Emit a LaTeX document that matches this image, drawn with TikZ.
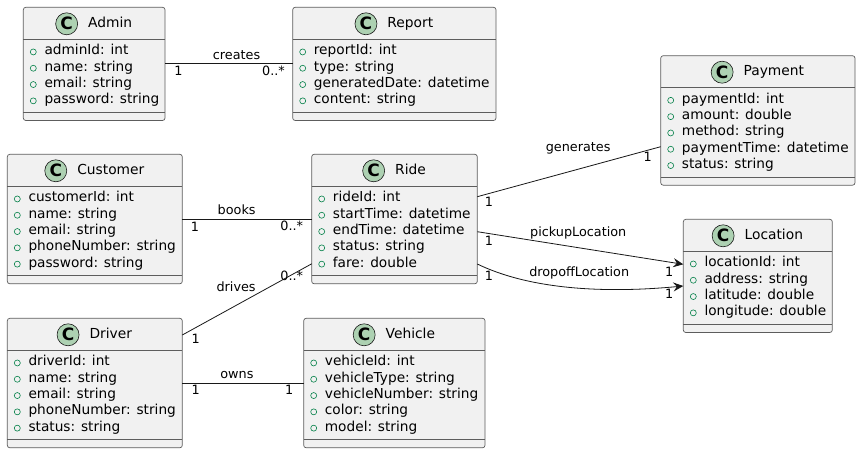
\documentclass[tikz,border=0pt]{standalone}
\usepackage{fontspec}
\setmainfont{DejaVu Sans}
\usetikzlibrary{arrows.meta,calc,positioning}

\definecolor{boxfill}{HTML}{F1F1F1}
\definecolor{boxline}{HTML}{181818}
\definecolor{iconfill}{HTML}{ADD1B2}
\definecolor{visgreen}{HTML}{038048}

\begin{document}
\begin{tikzpicture}[x=1pt,y=-1pt]
  \tikzset{classbox/.style={draw=boxline!70,fill=boxfill,line width=0.7pt,rounded corners=2.5pt,inner sep=0,outer sep=0}}
  \tikzset{sep/.style={draw=boxline!70,line width=0.7pt}}
  \tikzset{cname/.style={inner sep=0,font=\fontsize{13.8}{16}\selectfont,text height=10pt,text depth=3pt}}
  \tikzset{cicon/.style={circle,draw=boxline,fill=iconfill,line width=0.6pt,minimum size=22pt,inner sep=0,font=\fontsize{17}{17}\selectfont\bfseries}}
  \tikzset{attr/.style={anchor=west,inner sep=0,font=\fontsize{13.7}{16}\selectfont,text height=10pt,text depth=3pt}}
  \tikzset{vis/.style={draw=visgreen,line width=0.6pt}}
  \tikzset{assoc/.style={draw=boxline,line width=0.8pt}}
  \tikzset{lbl/.style={inner sep=0,font=\fontsize{12.8}{15}\selectfont,text height=9.5pt,text depth=2.5pt}}
  \tikzset{mult/.style={lbl}}

  \useasboundingbox[fill=white] (0,0) rectangle (861,454);

  % class box: name, top left, width, rows, title, attributes
  \def\umlclass#1#2#3#4#5#6{%
    \pgfmathsetmacro\hh{48+16.3*#4}
    \node[classbox,minimum width=#3,minimum height=\hh,anchor=north west] (#1) at (#2) {};
    \draw[sep] ($(#1.north west)+(0,32)$) -- ($(#1.north east)+(0,32)$);
    \draw[sep] ($(#1.south west)+(0,-8)$) -- ($(#1.south east)+(0,-8)$);
    \node[cname] (#1-title) at ($(#1.north)+(16,16.5)$) {#5};
    \node[cicon,left=10pt of #1-title] {C};
    \foreach \a [count=\i] in {#6} {
      \draw[vis] ($(#1.north west)+(10,28.35+16.3*\i)$) circle (3pt);
      \node[attr] at ($(#1.north west)+(21,27.85+16.3*\i)$) {\a};
    }
  }

  \umlclass{admin}{23.3,7.3}{141.7}{4}{Admin}{adminId: int, name: string, email: string, password: string}
  \umlclass{report}{292.7,7.3}{203.3}{4}{Report}{reportId: int, type: string, generatedDate: datetime, content: string}
  \umlclass{customer}{7.3,154.3}{175}{5}{Customer}{customerId: int, name: string, email: string, phoneNumber: string, password: string}
  \umlclass{ride}{311.7,154.3}{165.6}{5}{Ride}{rideId: int, startTime: datetime, endTime: datetime, status: string, fare: double}
  \umlclass{driver}{7.3,318.3}{175}{5}{Driver}{driverId: int, name: string, email: string, phoneNumber: string, status: string}
  \umlclass{vehicle}{303.7,318.3}{181.3}{5}{Vehicle}{vehicleId: int, vehicleType: string, vehicleNumber: string, color: string, model: string}
  \umlclass{payment}{660.7,55.7}{194.3}{5}{Payment}{paymentId: int, amount: double, method: string, paymentTime: datetime, status: string}
  \umlclass{location}{683.3,219.3}{149}{4}{Location}{locationId: int, address: string, latitude: double, longitude: double}

  % associations
  \draw[assoc] (admin.east) -- node[lbl,pos=.56,above=1.5pt] {creates}
    node[mult,pos=0,shift={(13.5,8.4)}] {1}
    node[mult,pos=1,shift={(-19.2,8.4)}] {0..*} (report.west);
  \draw[assoc] (customer.east) -- node[lbl,pos=.42,above=1.5pt] {books}
    node[mult,pos=0,shift={(12.7,8.7)}] {1}
    node[mult,pos=1,shift={(-20,7.7)}] {0..*} (ride.west);
  \draw[assoc] (driver.east) -- node[lbl,pos=.45,above=1.5pt] {owns}
    node[mult,pos=0,shift={(13.4,8.4)}] {1}
    node[mult,pos=1,shift={(-14.4,8.4)}] {1} (vehicle.west);
  \draw[assoc] ($(driver.north east)+(0,16.7)$) -- node[lbl,pos=.57,anchor=south east] {drives}
    node[mult,pos=0,shift={(13.4,5)}] {1}
    node[mult,pos=1,shift={(-20,12.7)}] {0..*} ($(ride.south west)+(0,-20)$);
  \draw[assoc] ($(ride.north east)+(0,42.4)$) -- node[lbl,pos=.55,yshift=21.5pt] {generates}
    node[mult,pos=0,shift={(11.7,6.6)}] {1}
    node[mult,pos=1,shift={(-13,11)}] {1} ($(payment.north west)+(0,91)$);
  \draw[assoc,-{Stealth[length=10pt,width=9pt,inset=3.5pt]}] ($(ride.north east)+(0,77.4)$)
    -- node[lbl,pos=.49,yshift=15pt] {pickupLocation}
    node[mult,pos=0,shift={(11.7,10)}] {1}
    node[mult,pos=1,shift={(-14,8.4)}] {1} ($(location.north west)+(0,45)$);
  \draw[assoc,-{Stealth[length=10pt,width=9pt,inset=3.5pt]}] ($(ride.north east)+(0,109.7)$)
    .. controls +(60,29) and +(-63,6) .. node[lbl,pos=.5,yshift=15.5pt] {dropoffLocation}
    node[mult,pos=0,shift={(11.7,12.7)}] {1}
    node[mult,pos=1,shift={(-14,9.3)}] {1} ($(location.north west)+(0,66.7)$);
\end{tikzpicture}
\end{document}
